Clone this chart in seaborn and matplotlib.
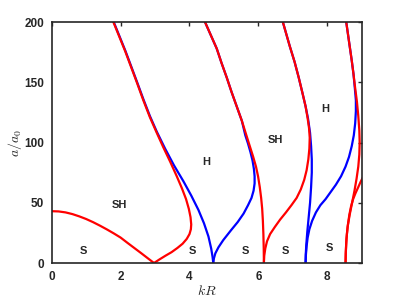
import seaborn as sns
import matplotlib.pyplot as plt

# boundary curves (kR, a/a0)
red0_kr = [0, 0.2, 0.4, 0.6, 0.8, 1.0, 1.2, 1.4, 1.6, 1.8, 2.0, 2.2, 2.4, 2.6, 2.8, 2.97]
red0_a = [43, 42.8, 42, 40.6, 38.7, 36.5, 33.9, 31.0, 27.9, 24.6, 21.1, 16.7, 12.4, 8.1, 3.7, 0]

redA_kr = [1.79, 1.96, 2.13, 2.30, 2.47, 2.66, 2.85, 3.05, 3.24, 3.44, 3.63, 3.78, 3.90,
           3.98, 4.03, 4.05, 4.04, 4.00, 3.92, 3.80, 3.65, 3.48, 3.30, 3.13, 2.97]
redA_a = [200, 188, 176, 163, 150, 135, 121, 108, 96, 84, 72, 62, 53,
          45, 38, 32, 28, 24, 20, 16, 12.5, 9, 6, 3, 0]

blueA_kr = [1.80, 1.97, 2.14, 2.31, 2.48, 2.66, 2.85, 3.05, 3.29, 3.55, 3.82, 4.05,
            4.26, 4.42, 4.55, 4.63, 4.67, 4.69]
blueA_a = [200, 188, 176, 163, 150, 136, 122, 109, 95, 81, 68, 56, 44, 33, 22, 12, 5, 0]

blueB_kr = [4.69, 4.71, 4.75, 4.84, 4.98, 5.20, 5.40, 5.57, 5.70, 5.80, 5.86, 5.89, 5.89,
            5.87, 5.83, 5.77, 5.70, 5.62, 5.52, 5.37, 5.22, 5.08, 4.93, 4.79, 4.62, 4.45]
blueB_a = [0, 4, 8, 13, 19, 27, 34, 41, 48, 54, 60, 66, 72,
           78, 85, 92, 99, 106, 118, 130, 142, 154, 166, 178, 189, 200]

redB_kr = [4.45, 4.62, 4.79, 4.93, 5.08, 5.22, 5.37, 5.52, 5.64, 5.75, 5.85, 5.93, 5.99,
           6.04, 6.08, 6.11, 6.13, 6.145, 6.155, 6.16]
redB_a = [200, 189, 178, 166, 154, 142, 130, 118, 107, 97, 88, 80, 72,
          63, 54, 45, 35, 24, 12, 0]

redC_kr = [6.16, 6.17, 6.20, 6.25, 6.34, 6.48, 6.63, 6.80, 6.96, 7.11, 7.23, 7.33, 7.40,
           7.45, 7.48, 7.49, 7.47, 7.43, 7.37, 7.28, 7.17, 7.05, 6.91, 6.71]
redC_a = [0, 6, 12, 18, 24, 30, 36, 42, 48, 54, 61, 69, 77,
          86, 95, 104, 112, 120, 130, 141, 154, 167, 180, 200]

blueC_kr = [6.71, 6.91, 7.05, 7.17, 7.28, 7.37, 7.44, 7.50, 7.53, 7.55, 7.55, 7.53,
            7.50, 7.46, 7.42, 7.39, 7.375, 7.37]
blueC_a = [200, 180, 167, 154, 141, 130, 120, 108, 97, 86, 75, 63, 50, 38, 26, 15, 7, 0]

blueD_kr = [7.37, 7.38, 7.40, 7.43, 7.48, 7.56, 7.67, 7.80, 7.95, 8.10, 8.25, 8.40, 8.53,
            8.63, 8.71, 8.77, 8.81, 8.83, 8.83, 8.80, 8.76, 8.71, 8.66, 8.60, 8.55]
blueD_a = [0, 7, 14, 21, 28, 35, 42, 48, 53, 59, 65, 72, 80,
           88, 97, 106, 116, 126, 135, 145, 157, 168, 178, 190, 200]

redD_kr = [8.55, 8.60, 8.66, 8.71, 8.76, 8.81, 8.86, 8.90, 8.93, 8.94, 8.93, 8.90,
           8.85, 8.79, 8.72, 8.65, 8.59, 8.555, 8.54, 8.53]
redD_a = [200, 190, 178, 168, 157, 145, 134, 122, 110, 100, 90, 80,
          70, 60, 50, 40, 30, 20, 10, 0]

redE_kr = [8.53, 8.535, 8.55, 8.57, 8.60, 8.64, 8.69, 8.75, 8.82, 8.90, 8.97, 9.05]
redE_a = [0, 8, 16, 24, 32, 40, 47, 53, 58, 63, 67.5, 72]

# region labels
lab_text = ['S', 'S', 'S', 'S', 'S', 'SH', 'H', 'SH', 'H']
lab_kr = [0.92, 4.09, 5.61, 6.79, 8.05, 1.98, 4.50, 6.48, 7.95]
lab_a = [10, 10, 10, 10, 12.5, 48, 84, 102, 127.5]

xticks = [0, 2, 4, 6, 8]
yticks = [0, 50, 100, 150, 200]

sns.set_style('white')
plt.rcParams['font.family'] = ['Liberation Sans', 'DejaVu Sans']
plt.rcParams['mathtext.fontset'] = 'cm'

fig = plt.figure(figsize=(3.99, 2.99), dpi=100)
ax = fig.add_axes([0.1296, 0.1204, 0.777, 0.806])

lw = 1.6
for kr, a in [(blueA_kr, blueA_a), (blueB_kr, blueB_a), (blueC_kr, blueC_a), (blueD_kr, blueD_a)]:
    sns.lineplot(x=kr, y=a, sort=False, estimator=None, color='#0000ff', lw=lw, ax=ax)
for kr, a in [(red0_kr, red0_a), (redA_kr, redA_a), (redB_kr, redB_a),
              (redC_kr, redC_a), (redD_kr, redD_a), (redE_kr, redE_a)]:
    sns.lineplot(x=kr, y=a, sort=False, estimator=None, color='#ff0000', lw=lw, ax=ax)

for t, x, y in zip(lab_text, lab_kr, lab_a):
    ax.text(x, y, t, ha='center', va='center', fontsize=8, fontweight='bold', color='#262626')

ax.set_xlim(0, 9)
ax.set_ylim(0, 200)
ax.set_xticks(xticks)
ax.set_yticks(yticks)
ax.tick_params(direction='in', top=True, right=True, length=3, width=1,
               labelsize=8.5, colors='#262626', pad=5.5)
for lbl in ax.get_xticklabels() + ax.get_yticklabels():
    lbl.set_fontweight('bold')
for s in ax.spines.values():
    s.set_color('#262626')
    s.set_linewidth(1.2)

ax.set_xlabel('$kR$', fontsize=10, color='#262626', labelpad=1)
ax.set_ylabel('$a/a_0$', fontsize=10, color='#262626', labelpad=0)

fig.savefig('out.png', dpi=100)
